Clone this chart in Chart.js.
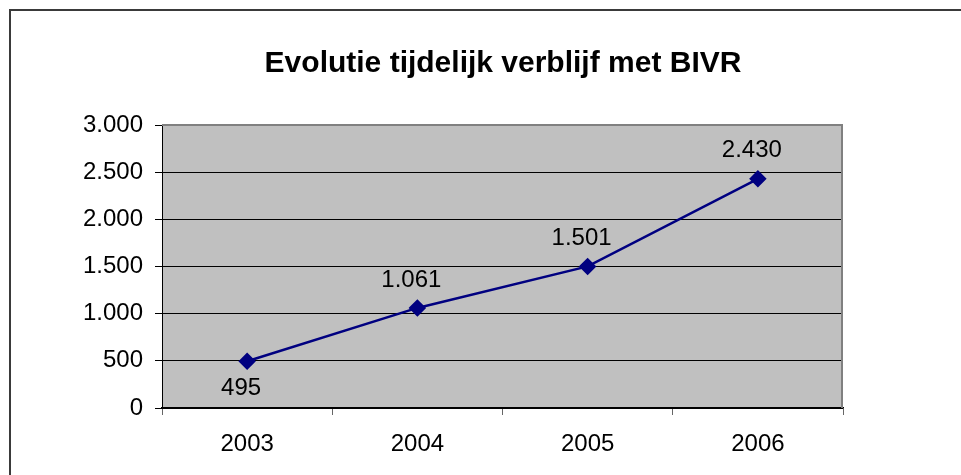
<!DOCTYPE html>
<html>
<head>
<meta charset="utf-8">
<script src="https://cdn.jsdelivr.net/npm/chart.js@4"></script>
<style>
  html, body { margin: 0; padding: 0; background: #fff; }
  #wrap { width: 961px; height: 475px; }
</style>
</head>
<body>
<div id="wrap"><canvas id="chart" width="961" height="475"></canvas></div>
<script>
// chart data
const years = ["2003", "2004", "2005", "2006"];
const stays = [495, 1061, 1501, 2430];
const labelSide = ["below", "above", "above", "above"];
const yTicks = [0, 500, 1000, 1500, 2000, 2500, 3000];

// Dutch thousands separator
const fmt = (v) => String(Math.round(v)).replace(/\B(?=(\d{3})+(?!\d))/g, ".");

const FONT = "'Liberation Sans', Arial, sans-serif";

// grey plot background + outer frame
const plotBg = {
  id: "plotBg",
  beforeDraw(chart) {
    const { ctx, chartArea: a } = chart;
    ctx.save();
    ctx.fillStyle = "#C0C0C0";
    ctx.fillRect(a.left, a.top, a.right - a.left, a.bottom - a.top);
    ctx.strokeStyle = "#3a3a3a";
    ctx.lineWidth = 2;
    ctx.strokeRect(10, 10, 960, 500);
    ctx.restore();
  },
  beforeDatasetsDraw(chart) {
    const { ctx, chartArea: a } = chart;
    ctx.save();
    ctx.strokeStyle = "#808080";
    ctx.lineWidth = 2;
    ctx.beginPath();
    ctx.moveTo(a.left, a.top);
    ctx.lineTo(a.right - 1, a.top);
    ctx.lineTo(a.right - 1, a.bottom);
    ctx.stroke();
    ctx.restore();
  }
};

// value labels next to the points
const valueLabels = {
  id: "valueLabels",
  afterDatasetsDraw(chart) {
    const { ctx } = chart;
    const meta = chart.getDatasetMeta(0);
    ctx.save();
    ctx.font = "24px " + FONT;
    ctx.fillStyle = "#000";
    ctx.textAlign = "center";
    ctx.textBaseline = "middle";
    meta.data.forEach((pt, i) => {
      const dy = labelSide[i] === "below" ? 27 : -28;
      ctx.fillText(fmt(stays[i]), pt.x - 6, pt.y + dy);
    });
    ctx.restore();
  }
};

new Chart(document.getElementById("chart"), {
  type: "line",
  data: {
    labels: years,
    datasets: [{
      data: stays,
      borderColor: "#000080",
      backgroundColor: "#000080",
      borderWidth: 2.5,
      pointStyle: "rectRot",
      pointRadius: 7,
      pointHoverRadius: 7,
      tension: 0
    }]
  },
  options: {
    responsive: false,
    animation: false,
    // left padding keeps the title centred over the plot
    layout: { padding: { left: 45, right: 0, top: 0, bottom: 0 } },
    plugins: {
      legend: { display: false },
      tooltip: { enabled: false },
      title: {
        display: true,
        text: "Evolutie tijdelijk verblijf met BIVR",
        color: "#000",
        font: { family: FONT, size: 30, weight: "bold", lineHeight: 1.2 },
        padding: { top: 46, bottom: 43 }
      }
    },
    scales: {
      x: {
        offset: true,
        grid: {
          offset: true,
          drawOnChartArea: false,
          drawTicks: true,
          tickLength: 7,
          tickColor: "#666"
        },
        border: { color: "#000", width: 1.5 },
        ticks: {
          color: "#000",
          font: { family: FONT, size: 24 },
          padding: 15,
          maxRotation: 0
        },
        afterFit(scale) { scale.height = 67; }
      },
      y: {
        min: 0,
        max: 3000,
        afterBuildTicks(scale) { scale.ticks = yTicks.map(v => ({ value: v })); },
        grid: {
          color: "#000",
          lineWidth: 1,
          tickLength: 7,
          tickColor: "#000"
        },
        border: { color: "#000", width: 1 },
        ticks: {
          color: "#000",
          font: { family: FONT, size: 24 },
          padding: 12,
          callback: (v) => fmt(v)
        },
        afterFit(scale) { scale.width = 117; }
      },
      // empty right-hand spacer
      yRight: {
        position: "right",
        grid: { display: false },
        border: { display: false },
        ticks: { display: false },
        afterFit(scale) { scale.width = 118; }
      }
    }
  },
  plugins: [plotBg, valueLabels]
});
</script>
</body>
</html>
